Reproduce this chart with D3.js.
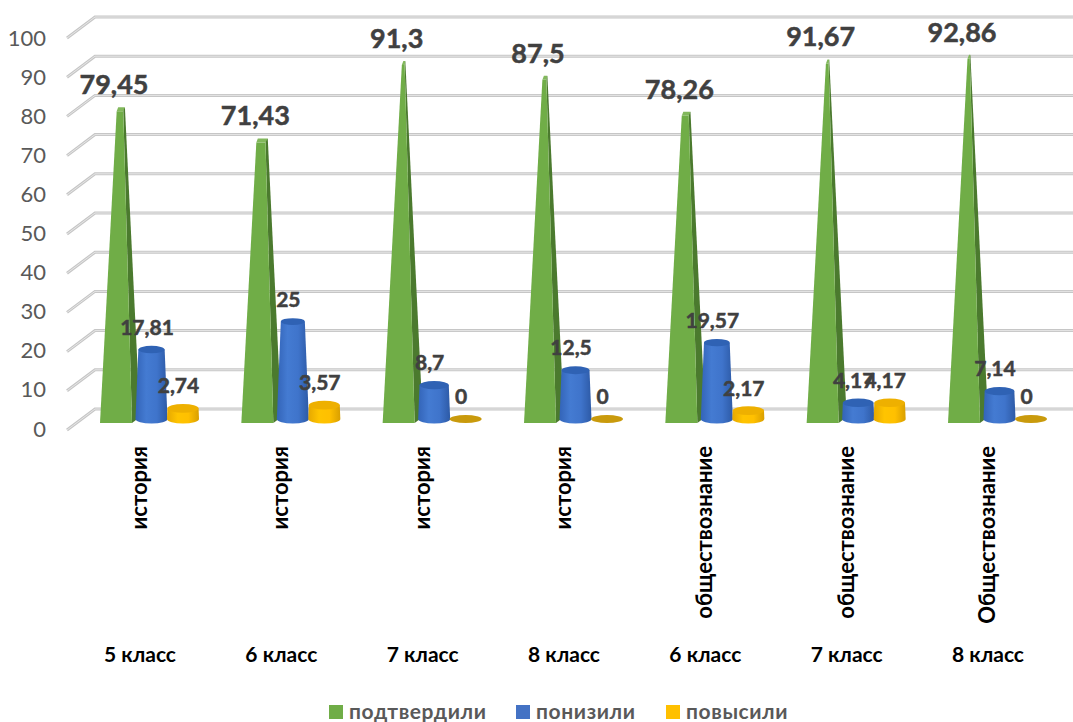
<!DOCTYPE html>
<html>
<head>
<meta charset="utf-8">
<script src="https://cdn.jsdelivr.net/npm/d3@7"></script>
<style>
  html, body { margin: 0; padding: 0; background: #fff; }
  text { font-family: Lato, "Open Sans", sans-serif; }
</style>
</head>
<body>
<div id="chart"></div>
<script>
let width = 1073, height = 722;

let subjects = ['история', 'история', 'история', 'история', 'обществознание', 'обществознание', 'Обществознание'];
let grades = ['5 класс', '6 класс', '7 класс', '8 класс', '6 класс', '7 класс', '8 класс'];
let seriesNames = ['подтвердили', 'понизили', 'повысили'];
let confirmed = [79.45, 71.43, 91.3, 87.5, 78.26, 91.67, 92.86];
let lowered = [17.81, 25, 8.7, 12.5, 19.57, 4.17, 7.14];
let raised = [2.74, 3.57, 0, 0, 2.17, 4.17, 0];
let yTicks = [0, 10, 20, 30, 40, 50, 60, 70, 80, 90, 100];

let svg = d3.select('#chart')
    .append('svg')
    .attr('width', width)
    .attr('height', height)
    .style('display', 'block');

let yAxisScale = d3.scaleLinear().domain([0, 100]).range([429, 38]);
let yBack = d3.scaleLinear().domain([0, 100]).range([409, 17]);
let yBar = d3.scaleLinear().domain([0, 100]).range([419, 29]);
let xGroup = d3.scalePoint().domain(d3.range(7)).range([120, 968]);
let xSeries = d3.scalePoint().domain(seriesNames.slice(1)).range([32, 63.5]);
let color = d3.scaleOrdinal().domain(seriesNames).range(['#70ad47', '#4472c4', '#ffc000']);
let format = (d) => String(d).replace('.', ',');

// cylinder shading
let defs = svg.append('defs');
let addGradient = (id, stops) => {
    let g = defs.append('linearGradient').attr('id', id);
    stops.forEach((s, i) => {
        g.append('stop')
            .attr('offset', (i / (stops.length - 1) * 100) + '%')
            .attr('stop-color', s);
    });
};
addGradient('blueBody', ['#3364b8', '#447bd2', '#3f74cb', '#2d5aa6']);
addGradient('yellowBody', ['#e6a800', '#ffc400', '#ffc000', '#d99f00']);

// floor-to-wall grid lines
let grid = svg.append('g');
yTicks.forEach((t) => {
    let y = yBack(t);
    let path = `M67,${y + 21}L95,${y}L1073,${y}`;
    grid.append('path').attr('d', path).attr('fill', 'none')
        .attr('stroke', '#c6c6c6').attr('stroke-width', 3);
    grid.append('path').attr('d', path).attr('fill', 'none')
        .attr('stroke', '#e6e6e6').attr('stroke-width', 1);
});

// y axis labels only
let yAxis = svg.append('g')
    .attr('transform', 'translate(46,0)')
    .call(d3.axisLeft(yAxisScale).tickValues(yTicks).tickSize(0).tickPadding(0));
yAxis.select('.domain').remove();
yAxis.selectAll('text')
    .style('font-family', 'Lato, sans-serif')
    .style('font-size', '22px')
    .attr('fill', '#595959');

let lerp = (a, b, t) => a + (b - a) * t;
let bars = svg.append('g');

// green pyramids
confirmed.forEach((v, i) => {
    let x0 = xGroup(i), t = v / 100, top = yBar(v);
    let apex = x0 + 1;
    let fl = lerp(x0 - 20, apex, t), fr = lerp(x0 + 12, apex, t), br = lerp(x0 + 20, apex, t);
    bars.append('path')
        .attr('d', `M${x0 + 12},423L${x0 + 20},417L${br},${top - 2}L${fr},${top}Z`)
        .attr('fill', '#4b7a2e');
    bars.append('path')
        .attr('d', `M${x0 - 20},423L${x0 + 12},423L${fr},${top + 2}L${fl},${top + 2}Z`)
        .attr('fill', color(seriesNames[0]));
    bars.append('path')
        .attr('d', `M${fl},${top + 2}L${fr},${top + 2}L${br},${top - 2}L${fl + 1.5},${top - 2}Z`)
        .attr('fill', '#82b85c');
});

// blue and yellow cones
let drawCone = (values, name, gradient, topFill, flatFill) => {
    values.forEach((v, i) => {
        let cx = xGroup(i) + xSeries(name) - 0.5;
        let r0 = 16, ry0 = 4.5, t = v / 100;
        let r1 = r0 * (1 - t), ry1 = ry0 * (1 - t);
        let base = yBar(0), top = yBar(v);
        if (v === 0) {
            bars.append('ellipse')
                .attr('cx', cx).attr('cy', base)
                .attr('rx', r0).attr('ry', ry0 - 0.5)
                .attr('fill', flatFill);
            return;
        }
        bars.append('path')
            .attr('d', `M${cx - r0},${base}A${r0},${ry0} 0 0 0 ${cx + r0},${base}L${cx + r1},${top}L${cx - r1},${top}Z`)
            .attr('fill', `url(#${gradient})`);
        bars.append('ellipse')
            .attr('cx', cx).attr('cy', top)
            .attr('rx', r1).attr('ry', ry1)
            .attr('fill', topFill);
    });
};
drawCone(lowered, seriesNames[1], 'blueBody', '#2f62b4', '#2f62b4');
drawCone(raised, seriesNames[2], 'yellowBody', '#eeb000', '#c99a0c');

// data labels
let labels = svg.append('g')
    .attr('font-weight', 700)
    .attr('fill', '#404040')
    .attr('stroke', '#404040')
    .attr('stroke-width', 0.5)
    .attr('text-anchor', 'middle');
confirmed.forEach((v, i) => {
    labels.append('text')
        .attr('x', xGroup(i) - 6)
        .attr('y', yBar(v) - 15)
        .attr('font-size', 27)
        .text(format(v));
});
[[lowered, seriesNames[1]], [raised, seriesNames[2]]].forEach(([values, name]) => {
    values.forEach((v, i) => {
        labels.append('text')
            .attr('x', xGroup(i) + xSeries(name) - 5)
            .attr('y', yBar(v) - 15)
            .attr('font-size', 21)
            .text(format(v));
    });
});

// two-level category labels
subjects.forEach((s, i) => {
    let x = xGroup(i) + 20;
    svg.append('text')
        .attr('transform', `translate(${x + 7},446) rotate(-90)`)
        .attr('text-anchor', 'end')
        .attr('font-size', 22)
        .attr('font-weight', 700)
        .attr('fill', '#000')
        .text(s);
    svg.append('text')
        .attr('x', x)
        .attr('y', 662)
        .attr('text-anchor', 'middle')
        .attr('font-size', 21)
        .attr('font-weight', 700)
        .attr('fill', '#000')
        .text(grades[i]);
});

// legend
let legendX = d3.scaleOrdinal().domain(seriesNames).range([329, 516, 666]);
seriesNames.forEach((name) => {
    svg.append('rect')
        .attr('x', legendX(name)).attr('y', 705)
        .attr('width', 14).attr('height', 14)
        .attr('fill', color(name));
    svg.append('text')
        .attr('x', legendX(name) + 20)
        .attr('y', 719)
        .attr('font-size', 21)
        .attr('font-weight', 700)
        .attr('letter-spacing', 0.6)
        .attr('fill', '#595959')
        .text(name);
});
</script>
</body>
</html>
